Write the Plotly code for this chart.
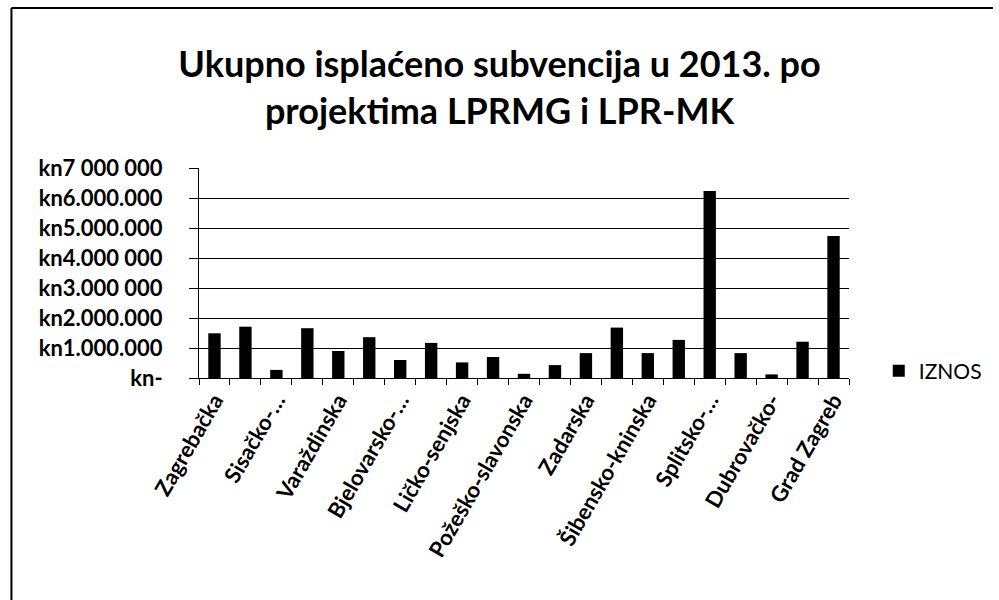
import plotly.graph_objects as go

counties = [
    "Zagrebačka", "Krapinsko-zagorska", "Sisačko-moslavačka", "Karlovačka",
    "Varaždinska", "Koprivničko-križevačka", "Bjelovarsko-bilogorska",
    "Primorsko-goranska", "Ličko-senjska", "Virovitičko-podravska",
    "Požeško-slavonska", "Brodsko-posavska", "Zadarska", "Osječko-baranjska",
    "Šibensko-kninska", "Vukovarsko-srijemska", "Splitsko-dalmatinska",
    "Istarska", "Dubrovačko-neretvanska", "Međimurska", "Grad Zagreb",
]
tick_labels = [
    "Zagrebačka", "", "Sisačko-…", "", "Varaždinska", "", "Bjelovarsko-…", "",
    "Ličko-senjska", "", "Požeško-slavonska", "", "Zadarska", "",
    "Šibensko-kninska", "", "Splitsko-…", "", "Dubrovačko-", "", "Grad Zagreb",
]
iznos = [
    1490000, 1710000, 270000, 1660000, 900000, 1360000, 600000, 1170000,
    520000, 700000, 140000, 430000, 830000, 1680000, 830000, 1270000,
    6230000, 830000, 120000, 1210000, 4730000,
]
y_tick_vals = [0, 1000000, 2000000, 3000000, 4000000, 5000000, 6000000, 7000000]
y_tick_text = ["kn-", "kn1.000.000", "kn2.000.000", "kn3.000 000", "kn4.000 000",
               "kn5.000.000", "kn6.000.000", "kn7 000 000"]

W, H = 999, 600
L, R, T, B = 199, 145, 168, 222
pw, ph = W - L - R, H - T - B

def px(x):
    return (x - L) / pw

def py(y):
    return (H - y - B) / ph

font = "Lato"

fig = go.Figure(go.Bar(
    x=counties, y=iznos, name="IZNOS",
    marker=dict(color="black", line=dict(width=0)),
))

fig.update_layout(
    width=W, height=H,
    margin=dict(l=L, r=R, t=T, b=B),
    paper_bgcolor="white", plot_bgcolor="white",
    bargap=0.6,
    title=dict(
        text="Ukupno isplaćeno subvencija u 2013. po<br>projektima LPRMG i LPR-MK",
        x=0.5, xanchor="center", y=1 - 77 / H, yanchor="middle",
        font=dict(family=font, size=36, color="black", weight="bold"),
    ),
    showlegend=True,
    legend=dict(
        x=px(884), xanchor="left", y=py(371), yanchor="middle",
        font=dict(family=font, size=21, color="black"),
        bgcolor="rgba(0,0,0,0)", itemwidth=30,
    ),
    xaxis=dict(
        type="category", tickmode="array", tickvals=counties, ticktext=tick_labels,
        tickangle=-60, tickson="boundaries", ticks="outside", ticklen=6,
        tickcolor="black", showline=True, linecolor="black", linewidth=1,
        showgrid=False,
        tickfont=dict(family=font, size=22, color="black", weight="bold"),
    ),
    yaxis=dict(
        range=[0, 7000000], tickmode="array", tickvals=y_tick_vals,
        ticktext=y_tick_text, ticks="outside", ticklen=9, tickcolor="black",
        showline=True, linecolor="black", linewidth=1,
        showgrid=True, gridcolor="black", gridwidth=1, zeroline=False,
        ticklabelstandoff=22,
        tickfont=dict(family=font, size=22, color="black", weight="bold"),
    ),
    shapes=[
        dict(type="line", xref="paper", yref="paper", x0=px(10), x1=px(10),
             y0=py(8), y1=py(600), line=dict(color="black", width=2)),
        dict(type="line", xref="paper", yref="paper", x0=px(10), x1=px(999),
             y0=py(8), y1=py(8), line=dict(color="black", width=2)),
    ],
)

fig.write_html("out.html", config={"displayModeBar": False},
               post_script="document.body.style.margin='0';")
